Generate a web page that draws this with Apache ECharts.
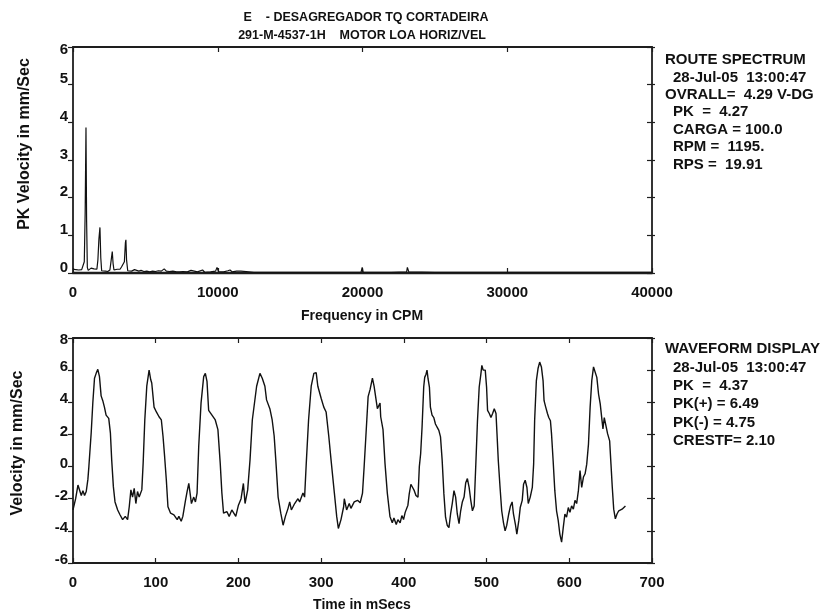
<!DOCTYPE html>
<html>
<head>
<meta charset="utf-8">
<script src="https://cdn.jsdelivr.net/npm/echarts@6/dist/echarts.min.js"></script>
<style>
html,body{margin:0;padding:0;background:#fff;}
#chart{width:826px;height:613px;}
</style>
</head>
<body>
<div id="chart"></div>
<script>
// ---- Titles and annotation text ----
const titleLines = ['E    - DESAGREGADOR TQ CORTADEIRA', '291-M-4537-1H    MOTOR LOA HORIZ/VEL'];
const spectrumInfo = [
  ['ROUTE SPECTRUM', 0],
  ['28-Jul-05  13:00:47', 1],
  ['OVRALL=  4.29 V-DG', 0],
  ['PK  =  4.27', 1],
  ['CARGA = 100.0', 1],
  ['RPM =  1195.', 1],
  ['RPS =  19.91', 1]
];
const waveInfo = [
  ['WAVEFORM DISPLAY', 0],
  ['28-Jul-05  13:00:47', 1],
  ['PK  =  4.37', 1],
  ['PK(+) = 6.49', 1],
  ['PK(-) = 4.75', 1],
  ['CRESTF= 2.10', 1]
];
const spectrumXName = 'Frequency in CPM';
const spectrumYName = 'PK Velocity in mm/Sec';
const waveXName = 'Time in mSecs';
const waveYName = 'Velocity in mm/Sec';

// ---- Axis ranges (tick labels) ----
const specXTicks = [0, 10000, 20000, 30000, 40000];
const specYTicks = [0, 1, 2, 3, 4, 5, 6];
const waveXTicks = [0, 100, 200, 300, 400, 500, 600, 700];
const waveYTicks = [-6, -4, -2, 0, 2, 4, 6, 8];

// ---- Spectrum data (CPM, PK velocity mm/s) ----
const spectrumFreq = [0,100,200,300,400,500,600,700,780,840,897,940,990,1050,1150,1250,1350,1450,1550,1650,1720,1790,1862,1920,1980,2100,2250,2400,2550,2640,2713,2770,2830,2950,3050,3150,3250,3350,3450,3550,3620,3655,3700,3780,3900,4050,4250,4400,4550,4700,4900,5100,5300,5500,5700,5900,6100,6300,6450,6650,6900,7150,7250,7350,7600,7900,8150,8250,8600,8950,9100,9500,9850,9950,10050,10400,10700,10850,11000,11300,11600,11700,12500,13500,14400,14460,14550,16000,18000,19900,19980,20050,20550,20600,20700,22000,23050,23100,23200,25000,28000,30300,30340,30400,33000,36000,40000];
const spectrumAmp  = [0.10,0.07,0.09,0.05,0.08,0.06,0.09,0.10,0.30,1.60,3.86,1.40,0.15,0.07,0.10,0.13,0.09,0.11,0.08,0.10,0.35,0.90,1.21,0.40,0.06,0.04,0.05,0.04,0.08,0.35,0.57,0.25,0.08,0.05,0.10,0.13,0.10,0.16,0.12,0.30,0.80,0.88,0.35,0.06,0.03,0.05,0.09,0.07,0.05,0.07,0.04,0.05,0.03,0.05,0.04,0.06,0.05,0.11,0.05,0.04,0.05,0.03,0.08,0.03,0.04,0.03,0.07,0.02,0.03,0.08,0.02,0.03,0.05,0.15,0.04,0.03,0.06,0.08,0.03,0.05,0.05,0.02,0.02,0.02,0.02,0.06,0.02,0.02,0.02,0.02,0.15,0.02,0.02,0.06,0.02,0.02,0.03,0.15,0.03,0.02,0.02,0.02,0.06,0.02,0.02,0.02,0.02];

// ---- Waveform data (ms, velocity mm/s) ----
const waveTime = [0,3.2,6,8,10,12,14,16,18,19.2,22,24,26,28,30,32,34,36,38,40,43.2,45.2,46.8,48.8,50.8,54,56.8,60,63.2,66,68,70,72,74,76,78,80,83.2,84.8,86.8,89.2,92,94,95.2,98,100.8,104,106.8,108.8,110.8,112.8,114.8,118,122,126,128,130.8,132.8,136,138,140,143.2,146,148,150,152,154.8,158,160,162,164,168,172,175.2,178,180,182,186,188.8,192,196.8,200,203.2,206,208,211.2,214,216.8,222,226,228.8,232,234,238,240.8,243.2,245.2,248,251.2,254,256.8,260,262,264,268,272,274,278,280,282,284.8,288,291.2,294,296,300,303.2,306,309.2,312,316,318.8,320.8,324,327.2,328,330.8,334,336,340,344,347.2,350,352,355.2,356.8,359.2,362,364,368,371.2,372,374.8,377.2,380,383.2,386,388,390.8,392.8,395.5,397.6,399.6,401.6,403.7,404.9,406.5,408.5,410.6,412.6,414.6,417.1,418.7,420.3,422,424,425.2,426.8,428,429.3,430.9,432.1,434.1,436.2,438.2,440.2,442.3,444.3,446.3,448.4,450.4,452.4,454.5,456.5,458.5,460.6,462.6,464.6,466.7,468.7,470.7,472.8,474.8,476.8,478.9,480.9,482.9,485,487,489,491.1,493.1,494.3,495.9,498.4,500,501.2,503.3,505.3,507.3,509.3,511.4,512.6,514.2,516.3,518.3,520.3,522.4,524.4,526.8,528.9,530.9,532.5,535,536.6,539,540.7,543.1,544.7,546.7,548.8,550.4,552.8,555.3,556.9,558.1,560.2,562.2,564.2,566.3,568.3,569.5,571.5,573.6,575.2,577.2,578.5,580.5,582.5,584.6,586.6,588.6,590.7,592.7,594.7,596.7,598.8,600.8,602.8,604.9,606.9,608.9,611,613,615,617.1,619.1,621.1,623.2,625.2,627.2,629.3,631.3,633.3,635.4,637.4,639.4,640.7,642.3,644.3,646.3,648.8,650.4,652,653.7,655.7,657.7,659.8,661.8,663.8,665.9,667.9];
const waveVel = [-2.7,-2.0,-1.15,-1.25,-1.8,-1.5,-1.8,-1.55,-0.8,0,2.1,4,5.5,5.8,6.05,5.6,4.4,4.1,3.7,3.2,3.0,2.1,0.4,-1.25,-2.2,-2.7,-3.0,-3.3,-3.1,-3.3,-2.5,-1.45,-1.9,-1.35,-2.3,-1.55,-1.9,-1.45,0.2,2.9,5,6.0,5.4,5.2,3.7,3.4,3.1,2.9,1.9,0.6,-0.8,-2.5,-2.9,-3.0,-3.3,-3.1,-3.4,-3.1,-2.1,-1.55,-1.05,-2.3,-1.9,-2.2,-1.65,1.25,3.95,5.6,5.8,5.3,3.5,3.2,2.9,2.3,0.2,-1.65,-2.9,-2.8,-3.1,-2.7,-3.1,-2.4,-2.0,-1.05,-2.3,-1.45,0.4,2.9,5,5.8,5.5,5,4.15,3.6,2.9,1.9,0.4,-1.9,-2.9,-3.65,-3.1,-2.6,-2.2,-2.7,-2.3,-2.0,-2.2,-1.65,-1.9,0.2,2.9,5,5.8,5.85,5,4.25,3.7,3.4,1.9,0.4,-1.65,-3.1,-3.85,-3.3,-2.5,-2.0,-2.7,-2.3,-2.6,-2.2,-2.1,-2.25,-1.65,0,2.9,4.35,4.8,5.5,5,3.6,3.95,3.1,2.3,0.2,-1.65,-3.1,-3.5,-3.2,-3.6,-3.3,-3.5,-3.05,-3.3,-2.85,-2.75,-2.4,-1.7,-1.1,-1.3,-1.5,-1.8,-1.9,0,0.8,2.45,4.95,5.55,5.75,6.0,5.45,4.95,3.7,3.2,3.05,2.65,2.45,2.25,1.85,0.4,-1.7,-3.15,-3.65,-3.8,-2.95,-2.3,-1.5,-1.9,-2.95,-3.55,-2.75,-2.2,-1.9,-1.0,-0.75,-1.3,-2.1,-2.75,-2.45,0.15,2.85,4.95,5.75,6.3,6.0,6.0,4.95,3.5,3.3,3.05,3.3,3.6,3.3,2.05,0.35,-1.3,-2.75,-3.45,-4.0,-3.65,-2.95,-2.45,-2.2,-2.95,-3.65,-4.2,-3.35,-2.55,-2.1,-1.1,-0.85,-1.3,-2.3,-1.9,-1.3,0.15,2.85,5.35,6.1,6.5,6.2,5.35,4.1,3.7,3.3,3.05,2.85,2.05,0.35,-1.5,-2.75,-3.35,-4.2,-4.7,-3.8,-2.95,-3.15,-2.55,-2.85,-2.45,-2.65,-2.1,-2.3,-1.5,-0.25,-1.3,-0.65,-0.45,0.15,1.4,3.7,5.35,6.2,6.3,5.55,4.5,3.9,2.95,2.35,3.05,3.0,2.05,1.6,0.15,-1.3,-2.65,-3.25,-2.95,-2.75,-2.85,-2.65,-2.55,-2.45];

// ---- Build chart ----
const FONT = '"Liberation Sans", Arial, Helvetica, sans-serif';
const FS = 15;
const INK = '#111';
const AX = '#1e1e1e';

const G0 = {left: 73, top: 47, width: 579, height: 226};
const G1 = {left: 73, top: 338, width: 579, height: 225};

function range(t) { return {min: t[0], max: t[t.length - 1], interval: t[1] - t[0]}; }

function xAxes(grid, ticks, bottomWidth) {
  const r = range(ticks);
  return [
    Object.assign({type: 'value', gridIndex: grid, position: 'bottom',
      axisLine: {show: true, onZero: false, lineStyle: {color: AX, width: bottomWidth}},
      axisTick: {show: true, inside: true, length: 5, lineStyle: {color: AX, width: 1.2}},
      axisLabel: {show: true, margin: 12, color: INK, fontFamily: FONT, fontWeight: 'bold', fontSize: FS,
                  showMinLabel: true, showMaxLabel: true, formatter: v => String(v)},
      splitLine: {show: false}}, r),
    Object.assign({type: 'value', gridIndex: grid, position: 'top',
      axisLine: {show: true, onZero: false, lineStyle: {color: AX, width: 1.8}},
      axisTick: {show: true, inside: true, length: 5, lineStyle: {color: AX, width: 1.2}},
      axisLabel: {show: false}, splitLine: {show: false}}, r)
  ];
}

function yAxes(grid, ticks, topPad, restPad) {
  const r = range(ticks);
  const top = ticks[ticks.length - 1];
  const lab = {fontFamily: FONT, fontWeight: 'bold', fontSize: FS, color: INK};
  return [
    Object.assign({type: 'value', gridIndex: grid, position: 'left',
      axisLine: {show: true, onZero: false, lineStyle: {color: AX, width: 1.8}},
      axisTick: {show: true, inside: false, length: 5, lineStyle: {color: AX, width: 1.2}},
      axisLabel: {show: true, margin: 5, showMinLabel: true, showMaxLabel: true,
        formatter: v => (v === top ? '{t|' + v + '}' : '{n|' + v + '}'),
        rich: {t: Object.assign({padding: topPad}, lab), n: Object.assign({padding: restPad}, lab)}},
      splitLine: {show: false}}, r),
    Object.assign({type: 'value', gridIndex: grid, position: 'right',
      axisLine: {show: true, onZero: false, lineStyle: {color: AX, width: 1.8}},
      axisTick: {show: true, inside: true, length: 5, lineStyle: {color: AX, width: 1.2}},
      axisLabel: {show: false}, splitLine: {show: false}}, r),
    Object.assign({type: 'value', gridIndex: grid, position: 'right',
      axisLine: {show: false, onZero: false},
      axisTick: {show: true, inside: false, length: 3, lineStyle: {color: AX, width: 1.2}},
      axisLabel: {show: false}, splitLine: {show: false}}, r)
  ];
}

function txt(x, y, s, size, opts) {
  return {type: 'text', x: x, y: y, silent: true,
    style: Object.assign({text: s, font: 'bold ' + size + 'px ' + FONT, fill: INK,
      textAlign: 'left', textVerticalAlign: 'middle', align: 'left', verticalAlign: 'middle'}, opts || {})};
}
function ctxt(x, y, s, size) { return txt(x, y, s, size, {textAlign: 'center', align: 'center'}); }
function rtxt(x, y, s, size) {
  const e = ctxt(x, y, s, size);
  e.rotation = Math.PI / 2;
  return e;
}

const graphics = [];
graphics.push(ctxt(366, 18, titleLines[0], 12.5));
graphics.push(ctxt(362, 36, titleLines[1], 12.5));
spectrumInfo.forEach((p, i) => graphics.push(txt(p[1] ? 673 : 665, 60 + i * 17.4, p[0], 15)));
waveInfo.forEach((p, i) => graphics.push(txt(p[1] ? 673 : 665, 349 + i * 18.4, p[0], 15)));
graphics.push(ctxt(362, 316, spectrumXName, 14));
graphics.push(ctxt(362, 605, waveXName, 14));
graphics.push(rtxt(25, 144, spectrumYName, 16));
graphics.push(rtxt(18, 443, waveYName, 16));

const option = {
  animation: false,
  backgroundColor: '#fff',
  grid: [G0, G1],
  xAxis: xAxes(0, specXTicks, 2.4).concat(xAxes(1, waveXTicks, 1.8)),
  yAxis: yAxes(0, specYTicks, [6, 0, 0, 0], [0, 0, 11, 0]).concat(yAxes(1, waveYTicks, [4, 0, 0, 0], [0, 0, 6, 0])),
  series: [
    {type: 'line', xAxisIndex: 0, yAxisIndex: 0, showSymbol: false, symbol: 'none',
     lineStyle: {color: INK, width: 1.2}, data: spectrumFreq.map((f, i) => [f, spectrumAmp[i]])},
    {type: 'line', xAxisIndex: 2, yAxisIndex: 3, showSymbol: false, symbol: 'none',
     lineStyle: {color: INK, width: 1.4}, data: waveTime.map((t, i) => [t, waveVel[i]])}
  ],
  graphic: graphics
};

const chart = echarts.init(document.getElementById('chart'), null, {renderer: 'canvas'});
chart.setOption(option);
</script>
</body>
</html>
